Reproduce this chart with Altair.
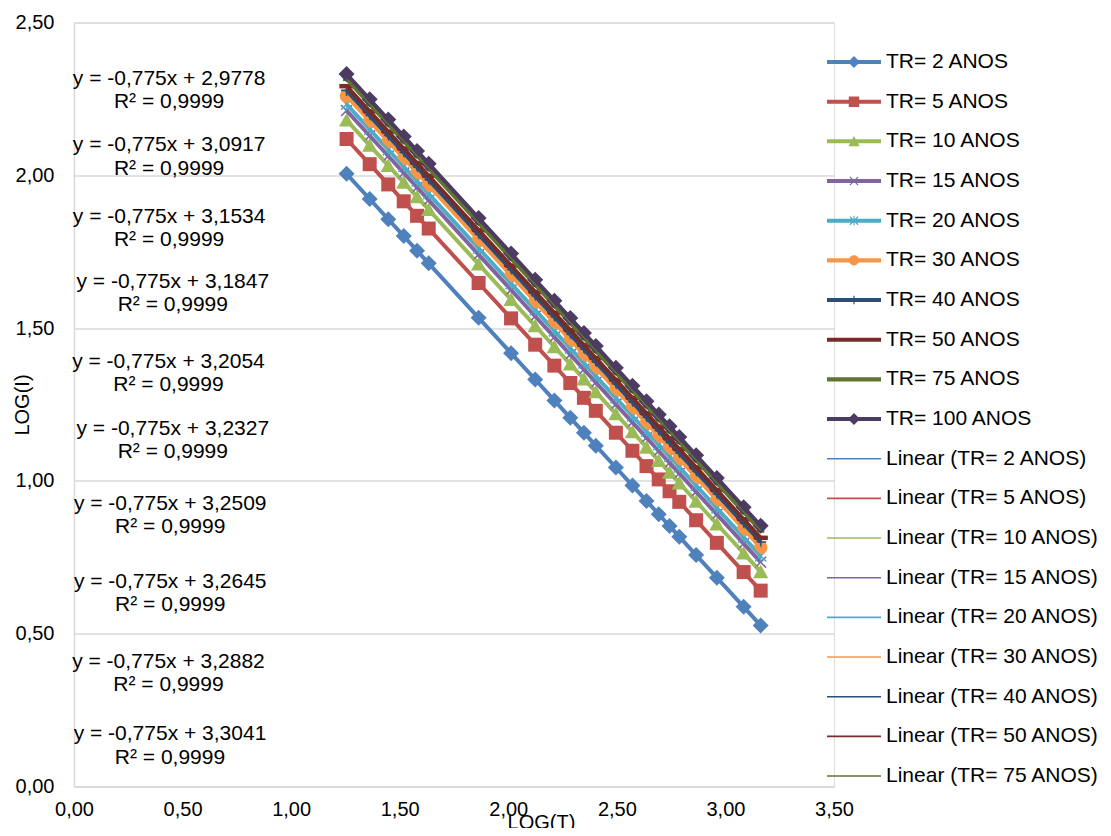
import altair as alt
import pandas as pd

# ---------------- data ----------------
series_names = ["TR= 2 ANOS", "TR= 5 ANOS", "TR= 10 ANOS", "TR= 15 ANOS", "TR= 20 ANOS",
                "TR= 30 ANOS", "TR= 40 ANOS", "TR= 50 ANOS", "TR= 75 ANOS", "TR= 100 ANOS"]
colors = ["#4F81BD", "#C0504D", "#9BBB59", "#8064A2", "#4BACC6",
          "#F79646", "#2C4D75", "#772C2A", "#5F7530", "#4D3B62"]

log_t = [1.2553, 1.3617, 1.4472, 1.5185, 1.5798, 1.6335, 1.8633, 2.0128, 2.1239, 2.2122,
         2.2856, 2.3483, 2.4031, 2.4955, 2.5717, 2.6365, 2.6928, 2.7427, 2.7875, 2.8651,
         2.9605, 3.0839, 3.1623]

tr2 = [2.0049, 1.9225, 1.8562, 1.8010, 1.7535, 1.7118, 1.5337, 1.4179, 1.3318, 1.2633, 1.2065,
       1.1579, 1.1154, 1.0438, 0.9847, 0.9345, 0.8909, 0.8522, 0.8175, 0.7573, 0.6834, 0.5878, 0.5270]
tr5 = [2.1188, 2.0364, 1.9701, 1.9149, 1.8674, 1.8257, 1.6476, 1.5318, 1.4457, 1.3772, 1.3204,
       1.2718, 1.2293, 1.1577, 1.0986, 1.0484, 1.0048, 0.9661, 0.9314, 0.8712, 0.7973, 0.7017, 0.6409]
tr10 = [2.1805, 2.0981, 2.0318, 1.9766, 1.9291, 1.8874, 1.7093, 1.5935, 1.5074, 1.4389, 1.3821,
        1.3335, 1.2910, 1.2194, 1.1603, 1.1101, 1.0665, 1.0278, 0.9931, 0.9329, 0.8590, 0.7634, 0.7026]
tr15 = [2.2118, 2.1294, 2.0631, 2.0079, 1.9604, 1.9187, 1.7406, 1.6248, 1.5387, 1.4702, 1.4134,
        1.3648, 1.3223, 1.2507, 1.1916, 1.1414, 1.0978, 1.0591, 1.0244, 0.9642, 0.8903, 0.7947, 0.7339]
tr20 = [2.2325, 2.1501, 2.0838, 2.0286, 1.9811, 1.9394, 1.7613, 1.6455, 1.5594, 1.4909, 1.4341,
        1.3855, 1.3430, 1.2714, 1.2123, 1.1621, 1.1185, 1.0798, 1.0451, 0.9849, 0.9110, 0.8154, 0.7546]
tr30 = [2.2598, 2.1774, 2.1111, 2.0559, 2.0084, 1.9667, 1.7886, 1.6728, 1.5867, 1.5182, 1.4614,
        1.4128, 1.3703, 1.2987, 1.2396, 1.1894, 1.1458, 1.1071, 1.0724, 1.0122, 0.9383, 0.8427, 0.7819]
tr40 = [2.2780, 2.1956, 2.1293, 2.0741, 2.0266, 1.9849, 1.8068, 1.6910, 1.6049, 1.5364, 1.4796,
        1.4310, 1.3885, 1.3169, 1.2578, 1.2076, 1.1640, 1.1253, 1.0906, 1.0304, 0.9565, 0.8609, 0.8001]
tr50 = [2.2916, 2.2092, 2.1429, 2.0877, 2.0402, 1.9985, 1.8204, 1.7046, 1.6185, 1.5500, 1.4932,
        1.4446, 1.4021, 1.3305, 1.2714, 1.2212, 1.1776, 1.1389, 1.1042, 1.0440, 0.9701, 0.8745, 0.8137]
tr75 = [2.3153, 2.2329, 2.1666, 2.1114, 2.0639, 2.0222, 1.8441, 1.7283, 1.6422, 1.5737, 1.5169,
        1.4683, 1.4258, 1.3542, 1.2951, 1.2449, 1.2013, 1.1626, 1.1279, 1.0677, 0.9938, 0.8982, 0.8374]
tr100 = [2.3312, 2.2488, 2.1825, 2.1273, 2.0798, 2.0381, 1.8600, 1.7442, 1.6581, 1.5896, 1.5328,
         1.4842, 1.4417, 1.3701, 1.3110, 1.2608, 1.2172, 1.1785, 1.1438, 1.0836, 1.0097, 0.9141, 0.8533]

series_values = [tr2, tr5, tr10, tr15, tr20, tr30, tr40, tr50, tr75, tr100]

eq_intercepts = ["2,9778", "3,0917", "3,1534", "3,1847", "3,2054",
                 "3,2327", "3,2509", "3,2645", "3,2882", "3,3041"]
eq_slope = "-0,775"
eq_r2 = "0,9999"
eq_x = [0.438, 0.438, 0.438, 0.455, 0.435, 0.455, 0.443, 0.443, 0.435, 0.442]
eq_y = [2.316, 2.098, 1.865, 1.652, 1.390, 1.171, 0.924, 0.670, 0.408, 0.171]

legend_labels = series_names + ["Linear (" + n + ")" for n in series_names[:9]]
legend_colors = colors + colors[:9]

x_ticks = [0, 0.5, 1.0, 1.5, 2.0, 2.5, 3.0, 3.5]
y_ticks = [0, 0.5, 1.0, 1.5, 2.0, 2.5]

# ---------------- tables ----------------
rows = []
for name, vals in zip(series_names, series_values):
    for xv, yv in zip(log_t, vals):
        rows.append({"series": name, "x": xv, "y": yv})
df = pd.DataFrame(rows)

eq_df = pd.DataFrame({
    "x": eq_x, "y": eq_y,
    "text": [f"y = {eq_slope}x + {b}\nR\u00b2 = {eq_r2}" for b in eq_intercepts],
})
legend_df = pd.DataFrame({"label": legend_labels})

# ---------------- marker shapes ----------------
def rect(x0, y0, x1, y1):
    return [(x0, y0), (x1, y0), (x1, y1), (x0, y1)]

def xshape(a, t):
    return [(-a, -a + t), (-a + t, -a), (0, -t), (a - t, -a), (a, -a + t), (t, 0),
            (a, a - t), (a - t, a), (0, t), (-a + t, a), (-a, a - t), (-t, 0)]

def circle_path(r):
    return f"M{-r:.3f},0A{r:.3f},{r:.3f},0,1,1,{r:.3f},0A{r:.3f},{r:.3f},0,1,1,{-r:.3f},0Z"

marker_defs = [
    [[(0, -1), (1, 0), (0, 1), (-1, 0)]],                         # diamond
    [rect(-0.875, -0.875, 0.875, 0.875)],                          # square
    [[(0, -0.9), (0.95, 0.8), (-0.95, 0.8)]],                      # triangle
    [xshape(0.75, 0.14)],                                          # x
    [xshape(0.75, 0.14), rect(-0.09, -0.8, 0.09, 0.8)],            # star
    "circle",                                                      # circle
    [rect(-0.1, -0.7, 0.1, 0.7), rect(-0.7, -0.1, 0.7, 0.1)],      # plus
    [rect(-0.9, -0.28, 0.9, 0.28)],                                # dash
    [rect(-0.45, -0.28, 0.45, 0.28)],                              # short dash
    [[(0, -1), (1, 0), (0, 1), (-1, 0)]],                          # diamond
]

def marker_path(defn, s):
    if defn == "circle":
        return circle_path(0.85 * s)
    out = ""
    for poly in defn:
        out += "M" + "L".join(f"{px * s:.3f},{py * s:.3f}" for px, py in poly) + "Z"
    return out

plot_shapes = [marker_path(d, 1.0) for d in marker_defs]
thick_line = marker_path([rect(-1, -0.075, 1, 0.075)], 1.0)
thin_line = marker_path([rect(-1, -0.03, 1, 0.03)], 1.0)
legend_shapes = [thick_line + marker_path(d, 0.222) for d in marker_defs] + [thin_line] * 9

# ---------------- encodings ----------------
FONT = "Liberation Sans"
comma = "replace(format(datum.value, '.2f'), '.', ',')"

x_enc = alt.X("x:Q",
              scale=alt.Scale(domain=[0, 3.5], nice=False, zero=False),
              axis=alt.Axis(values=x_ticks, grid=False, ticks=False, domain=True,
                            domainColor="#d9d9d9", domainWidth=1.5,
                            labelExpr=comma, labelFontSize=20, labelColor="#000000",
                            labelFont=FONT, labelPadding=13, labelFlush=False, labelOverlap=False,
                            title="LOG(T)", titleFont=FONT, titleFontSize=20,
                            titleFontWeight="normal", titleColor="#000000",
                            titleX=467, titleY=36, titleBaseline="middle"))
y_enc = alt.Y("y:Q",
              scale=alt.Scale(domain=[0, 2.5], nice=False, zero=False),
              axis=alt.Axis(values=y_ticks, grid=True, gridColor="#d9d9d9", gridWidth=1.5,
                            ticks=False, domain=True, domainColor="#d9d9d9", domainWidth=1.5,
                            labelExpr=comma, labelFontSize=20, labelColor="#000000",
                            labelFont=FONT, labelPadding=20, labelFlush=False, labelOverlap=False,
                            title="LOG(I)", titleFont=FONT, titleFontSize=20,
                            titleFontWeight="normal", titleColor="#000000",
                            titleX=-52, titleY=382, titleBaseline="middle", titleAngle=-90))

layers = []
for i, name in enumerate(series_names):
    base = alt.Chart(df).transform_filter(alt.datum.series == name)
    layers.append(base.mark_line(color=colors[i], strokeWidth=4, strokeJoin="round")
                  .encode(x=x_enc, y=y_enc))
    layers.append(base.mark_point(filled=True, opacity=1, size=256, shape=plot_shapes[i],
                                  color=colors[i], strokeWidth=0)
                  .encode(x=x_enc, y=y_enc))

for i, name in enumerate(series_names):
    base = alt.Chart(df).transform_filter(alt.datum.series == name)
    layers.append(base.transform_regression("x", "y")
                  .mark_line(color=colors[i], strokeWidth=1.5)
                  .encode(x=x_enc, y=y_enc))

text_layer = alt.Chart(eq_df).mark_text(
    font=FONT, fontSize=21, color="#000000", align="center", baseline="middle",
    lineBreak="\n", lineHeight=23.3,
).encode(x=x_enc, y=y_enc, text="text:N")
layers.append(text_layer)

leg = alt.Legend(orient="none", legendX=753, legendY=20, title=None,
                 symbolSize=2916, symbolStrokeWidth=0, symbolOffset=0,
                 labelFont=FONT, labelFontSize=21, labelColor="#000000", labelOffset=5,
                 labelLimit=400, clipHeight=39, rowPadding=0.67, padding=0)
legend_layer = alt.Chart(legend_df).transform_filter("false").mark_point(
    filled=True, opacity=1, strokeWidth=0
).encode(
    color=alt.Color("label:N", scale=alt.Scale(domain=legend_labels, range=legend_colors),
                    legend=leg),
    shape=alt.Shape("label:N", scale=alt.Scale(domain=legend_labels, range=legend_shapes),
                    legend=leg),
)
layers.append(legend_layer)

chart = alt.layer(*layers).properties(
    width=760, height=764,
    autosize=alt.AutoSizeParams(type="none"),
    padding={"left": 66, "top": 14.5, "right": 269, "bottom": 41.5},
    background="#ffffff",
).configure_view(stroke=None).configure(font=FONT)

chart.save("out.html", embed_options={"renderer": "svg", "actions": False})
